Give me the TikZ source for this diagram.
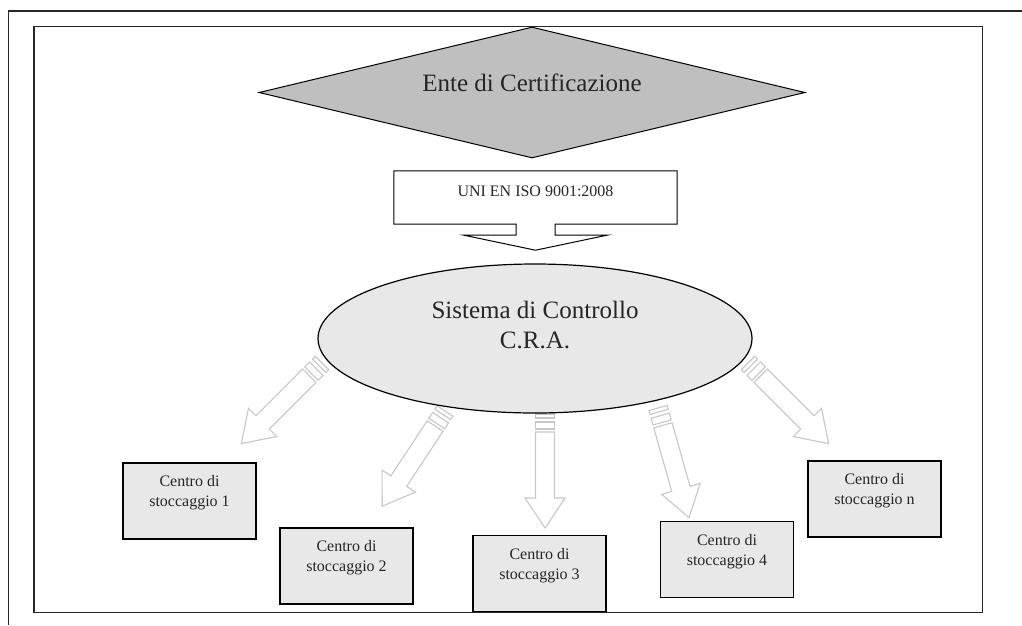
\documentclass[tikz,border=0pt]{standalone}
\usepackage{fontspec}
\setmainfont{Liberation Serif}
\usetikzlibrary{shapes.geometric, positioning, calc}

% block arrow with two stripes at its tail: #1 tail coordinate, #2 angle
\newcommand{\stockarrow}[2]{%
    \begin{scope}[shift={(#1)}, rotate=#2]
        \draw[arr] (0,-9.5) rectangle (4,9.5);
        \draw[arr] (8,-9.5) rectangle (15,9.5);
        \draw[arr] (18,-9.5) -- (84,-9.5) -- (84,-20) -- (114,0) -- (84,20) -- (84,9.5) -- (18,9.5) -- cycle;
    \end{scope}}

\begin{document}
\begin{tikzpicture}[
        x=1pt, y=-1pt,
        frame/.style={draw, line width=1.6pt, black!85},
        centro/.style={draw, line width=1.3pt, fill=black!9, minimum width=133pt, minimum height=76pt, inner sep=0pt},
        arr/.style={draw=black!22, line width=1.1pt, fill=white},
        txt/.style={text=black!85, align=center},
        big/.style={txt, font=\fontsize{25}{30}\selectfont},
        small/.style={txt, font=\fontsize{16}{20}\selectfont}
    ]
        \useasboundingbox (0,0) rectangle (1022,625);
        % Frames
        \draw[frame] (8.5,625) -- (8.5,11) -- (1022,11);
        \draw[frame] (34,26.5) rectangle (982.5,612.5);

        % Certification body
        \node[diamond, draw, line width=1pt, fill=black!25, minimum width=546pt, minimum height=131pt, aspect=4.2, inner sep=0pt,
            label={[big, yshift=10pt]center:Ente di Certificazione}] (ente) at (532,92.5) {};

        % Norm callout
        \node[minimum width=283pt, minimum height=53pt, inner sep=0pt,
            label={[small, yshift=6pt]center:UNI EN ISO 9001:2008}] (uni) at (535.5,197.5) {};
        \draw[line width=1pt] (uni.north west) -- (uni.north east) -- (uni.south east)
            -- ($(uni.south)+(19.5,0)$) -- ++(0,11) -- ++(52,0) -- ($(uni.south)+(0,26)$)
            -- ($(uni.south)+(-71.5,11)$) -- ++(52,0) -- ++(0,-11) -- (uni.south west) -- cycle;

        % Arrows to the storage centres
        \foreach \n/\x/\y/\a in {1/322/363/-135, 2/445/411/-123.4, 3/545/414/-90, 4/658/408/-74.2, 5/748/363/-45} {
            \coordinate (t\n) at (\x,\y);
            \stockarrow{t\n}{\a}
        }

        % Control system
        \node[ellipse, draw, line width=1.2pt, fill=black!9, minimum width=434pt, minimum height=149pt, inner sep=0pt,
            label={[big, yshift=14pt]center:Sistema di Controllo\\C.R.A.}] (cra) at (535,338.5) {};

        % Storage centres
        \foreach \n/\x/\y in {1/189.5/501, 2/346.5/566, 3/539.5/573.5, 4/727/559.5, n/874.5/499} {
            \node[centro, label={[small, yshift=8pt]center:Centro di\\stoccaggio \n}] (cs\n) at (\x,\y) {};
        }
\end{tikzpicture}
\end{document}
